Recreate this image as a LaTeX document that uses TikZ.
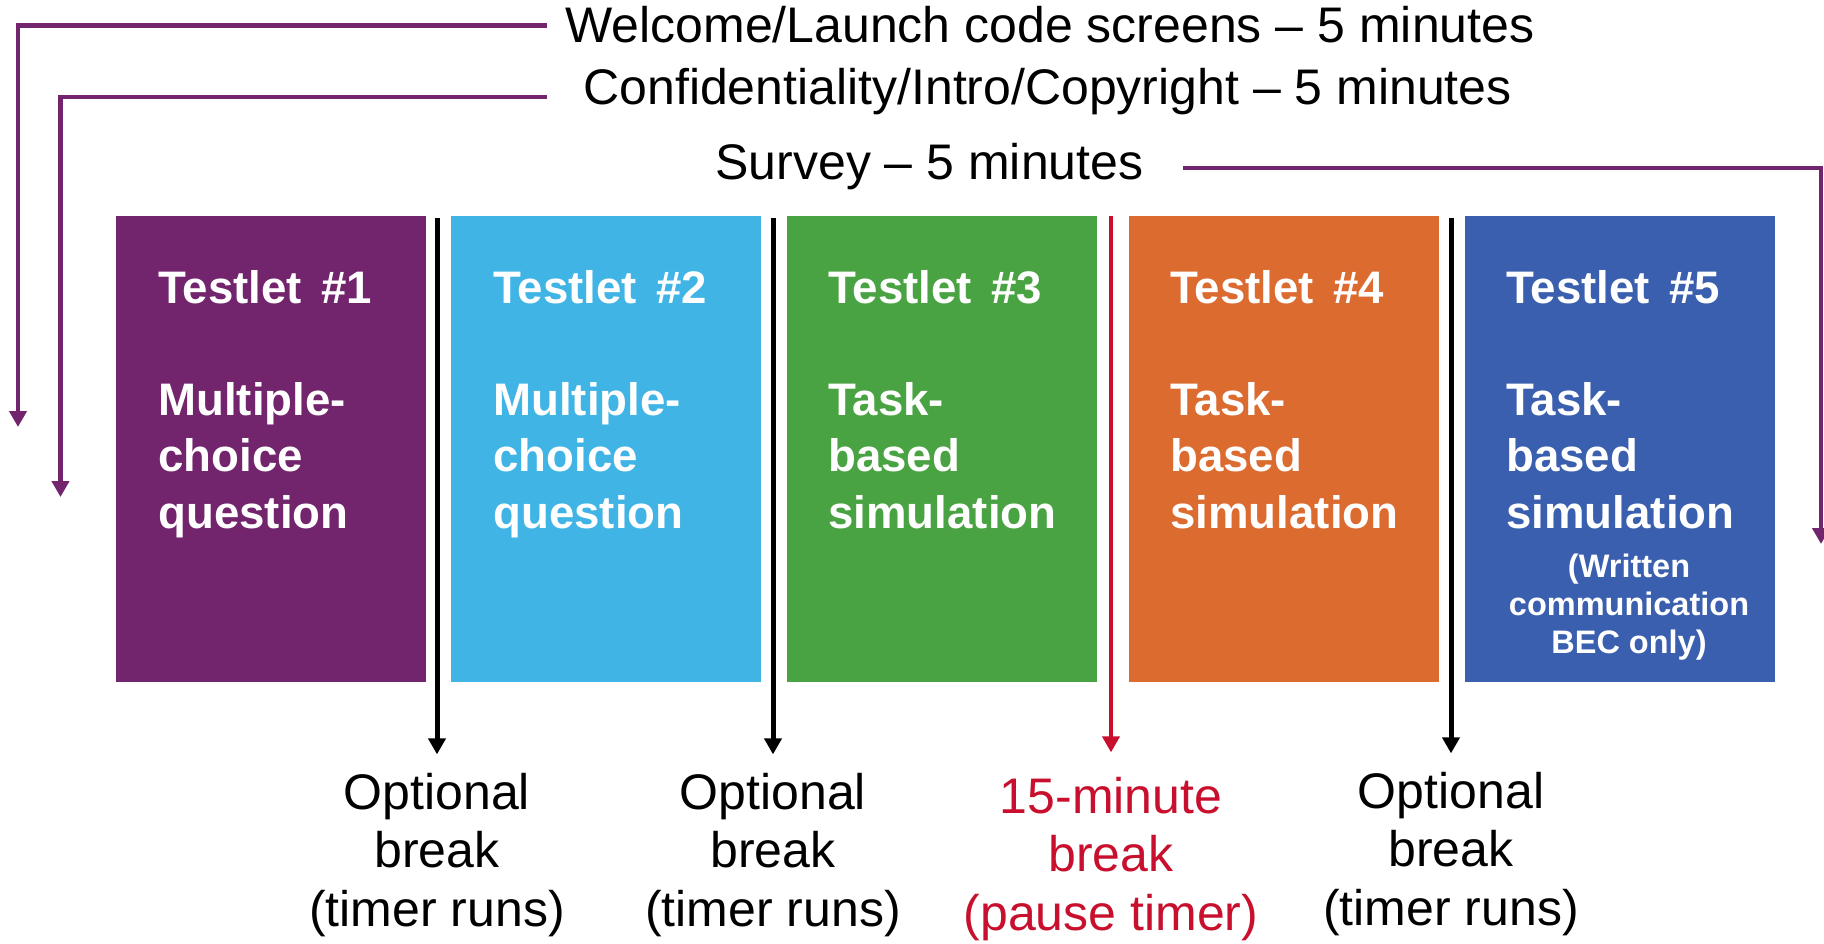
\documentclass[tikz,border=0pt]{standalone}
\usepackage{fontspec}
\setmainfont{Liberation Sans}
\usetikzlibrary{arrows.meta}
\definecolor{cpurple}{RGB}{114,36,108}
\definecolor{cblue}{RGB}{65,180,230}
\definecolor{cgreen}{RGB}{74,163,66}
\definecolor{corange}{RGB}{220,107,48}
\definecolor{cnavy}{RGB}{59,95,175}
\definecolor{cred}{RGB}{200,16,46}
\begin{document}
\begin{tikzpicture}[x=0.5pt,y=-0.5pt,
  tbox/.style={rectangle, inner sep=0pt, outer sep=0pt, minimum width=155pt, minimum height=233pt, draw=none},
  head/.style={anchor=base west, inner sep=0pt, text=white, font=\fontsize{22.8}{28.15}\selectfont\bfseries},
  smalltext/.style={anchor=base, inner sep=0pt, text=white, font=\fontsize{16.25}{19}\selectfont\bfseries},
  toptext/.style={anchor=base west, inner sep=0pt, font=\fontsize{25}{29}\selectfont},
  brklabel/.style={anchor=base, inner sep=0pt, font=\fontsize{25}{29.3}\selectfont},
  purplearrow/.style={draw=cpurple, line width=2.25pt, -{Triangle[length=8pt,width=8.5pt]}},
  blackarrow/.style={draw=black, line width=2.5pt, -{Triangle[length=8pt,width=8.5pt]}},
  redarrow/.style={draw=cred, line width=2pt, -{Triangle[length=8pt,width=8.5pt]}},
]
\useasboundingbox (0,0) rectangle (1824,943);
\fill[white] (0,0) rectangle (1824,943);

% top texts
\node[toptext] (w1) at (565,42) {Welcome/Launch code screens – 5 minutes};
\node[toptext] (w2) at (583,104) {Confidentiality/Intro/Copyright – 5 minutes};
\node[toptext] (w3) at (715,179) {Survey – 5 minutes};

% purple connectors
\coordinate (p1s) at (547,25.7);
\coordinate (p1e) at (18,427);
\coordinate (p2s) at (547,97);
\coordinate (p2e) at (60.5,497);
\coordinate (p3s) at (1183,168);
\coordinate (p3e) at (1821,544);
\draw[purplearrow] (p1s) -| (p1e);
\draw[purplearrow] (p2s) -| (p2e);
\draw[purplearrow] (p3s) -| (p3e);

% testlet boxes
\node[tbox, fill=cpurple] (t1) at (271,449) {};
\node[tbox, fill=cblue] (t2) at (606,449) {};
\node[tbox, fill=cgreen] (t3) at (941.5,449) {};
\node[tbox, fill=corange] (t4) at (1284,449) {};
\node[tbox, fill=cnavy] (t5) at (1619.5,449) {};

\node[head] (h1) at (158,303) {\parbox[t]{140pt}{\raggedright Testlet\hspace{0.42em}\#1\\[28.15pt]Multiple-\\choice\\question}};
\node[head] (h2) at (493,303) {\parbox[t]{140pt}{\raggedright Testlet\hspace{0.42em}\#2\\[28.15pt]Multiple-\\choice\\question}};
\node[head] (h3) at (828,303) {\parbox[t]{140pt}{\raggedright Testlet\hspace{0.42em}\#3\\[28.15pt]Task-\\based\\simulation}};
\node[head] (h4) at (1170,303) {\parbox[t]{140pt}{\raggedright Testlet\hspace{0.42em}\#4\\[28.15pt]Task-\\based\\simulation}};
\node[head] (h5) at (1506,303) {\parbox[t]{140pt}{\raggedright Testlet\hspace{0.42em}\#5\\[28.15pt]Task-\\based\\simulation}};
\node[smalltext] (s5) at (1629,577) {\parbox[t]{150pt}{\centering (Written\\communication\\BEC only)}};

% break labels
\node[brklabel] (l1) at (437,809) {\parbox[t]{160pt}{\centering Optional\\break\\(timer runs)}};
\node[brklabel] (l2) at (773,809) {\parbox[t]{160pt}{\centering Optional\\break\\(timer runs)}};
\node[brklabel, text=cred] (l3) at (1111,813) {\parbox[t]{160pt}{\centering 15-minute\\break\\(pause timer)}};
\node[brklabel] (l4) at (1451,808) {\parbox[t]{160pt}{\centering Optional\\break\\(timer runs)}};

% break connectors
\coordinate (b1) at (437,218);
\coordinate (b2) at (773,218);
\coordinate (b3) at (1111,216);
\coordinate (b4) at (1451,218);
\draw[blackarrow] (b1) -- ([yshift=9pt]l1.north);
\draw[blackarrow] (b2) -- ([yshift=9pt]l2.north);
\draw[redarrow] (b3) -- ([yshift=12pt]l3.north);
\draw[blackarrow] (b4) -- ([yshift=9pt]l4.north);
\end{tikzpicture}
\end{document}
